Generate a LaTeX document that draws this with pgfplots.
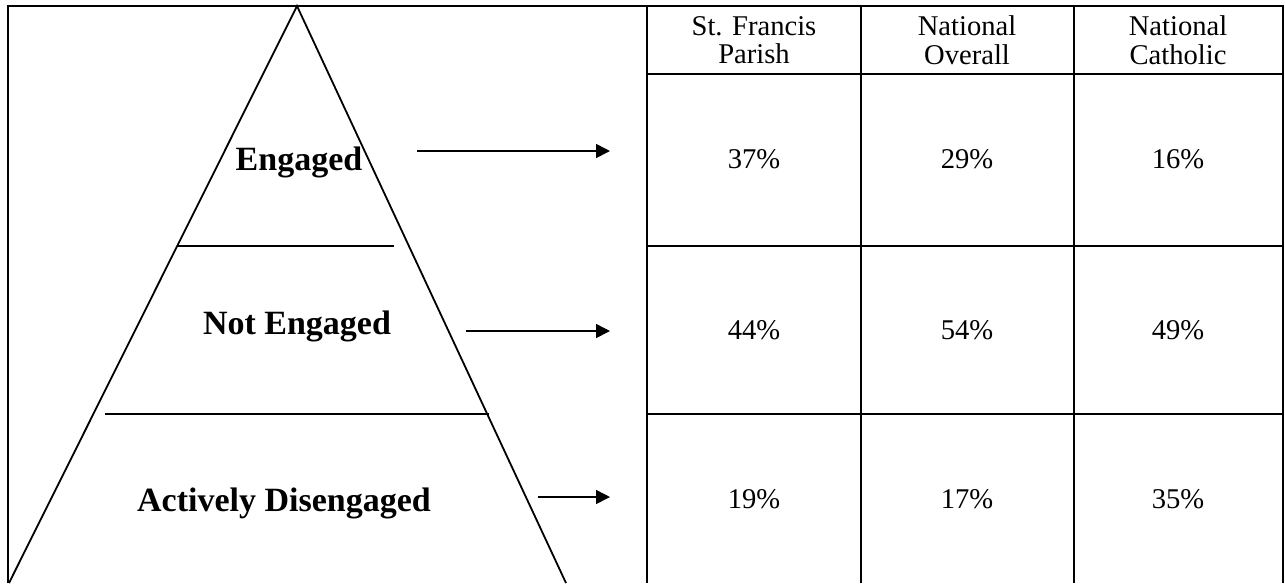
\documentclass[border=0pt]{standalone}
\usepackage{pgfplots}
\pgfplotsset{compat=1.18}
\usepackage{pgfplotstable}
\usepackage{fontspec}
\setmainfont{Liberation Serif}
\usetikzlibrary{arrows.meta}

% cell values: x y label (pixel coordinates of the reference)
\pgfplotstableread[col sep=comma]{
x,y,lab
754,159,37\%
967,159,29\%
1178,159,16\%
754,330,44\%
967,330,54\%
1178,330,49\%
754,499,19\%
967,499,17\%
1178,499,35\%
}\cells

\begin{document}
\begin{tikzpicture}
\begin{axis}[
    scale only axis,
    width=642.5pt, height=291.5pt,
    xmin=0, xmax=1285, ymin=0, ymax=583,
    y dir=reverse,
    hide axis,
    clip=false,
]
    % outer frame and table grid
    \addplot[black, line width=1.3pt, unbounded coords=jump] coordinates {
        (8,583) (8,6) (1283,6) (1283,583)
        (nan,nan)
        (647,6) (647,583)
        (nan,nan)
        (861,6) (861,583)
        (nan,nan)
        (1074,6) (1074,583)
        (nan,nan)
        (647,74) (1283,74)
        (nan,nan)
        (647,246) (1283,246)
        (nan,nan)
        (647,414) (1283,414)
    };

    % pyramid
    \addplot[black, line width=0.9pt] coordinates {
        (9,583) (297,6) (566,583)
    };
    \addplot[black, line width=1pt] coordinates {(178,246) (394,246)};
    \addplot[black, line width=1pt] coordinates {(105,414) (489,414)};

    % arrows
    \addplot[black, line width=0.8pt, -{Triangle[length=7pt,width=7pt]}] coordinates {(417,151) (610,151)};
    \addplot[black, line width=0.8pt, -{Triangle[length=7pt,width=7pt]}] coordinates {(466,331) (610,331)};
    \addplot[black, line width=0.8pt, -{Triangle[length=7pt,width=7pt]}] coordinates {(538,497) (610,497)};

    % percentages
    \addplot[only marks, mark=none, point meta=explicit symbolic,
        nodes near coords, nodes near coords align={center},
        every node near coord/.append style={font=\fontsize{14.3}{14}\selectfont, anchor=center}]
        table[x=x, y=y, meta=lab] {\cells};

    % pyramid labels
    \node[font=\bfseries\fontsize{17}{20}\selectfont] at (axis cs:299,162) {Engaged};
    \node[font=\bfseries\fontsize{17}{20}\selectfont] at (axis cs:297,326) {Not Engaged};
    \node[font=\bfseries\fontsize{17}{20}\selectfont] at (axis cs:284,503) {Actively Disengaged};

    % column headers
    \node[align=center, font=\fontsize{14.3}{14.3}\selectfont] at (axis cs:754,40) {St. Francis\\Parish};
    \node[align=center, font=\fontsize{14.3}{14.3}\selectfont] at (axis cs:967,40) {National\\Overall};
    \node[align=center, font=\fontsize{14.3}{14.3}\selectfont] at (axis cs:1178,40) {National\\Catholic};
\end{axis}
\pgfresetboundingbox
\path (current axis.south west) rectangle (current axis.north east);
\end{tikzpicture}
\end{document}
